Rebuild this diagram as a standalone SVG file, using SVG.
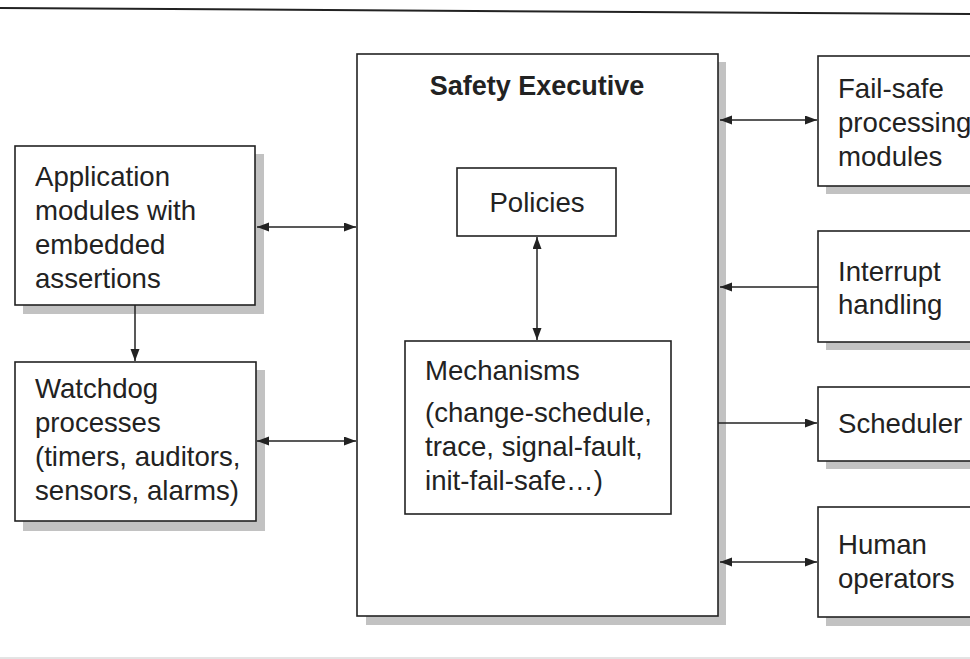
<svg xmlns="http://www.w3.org/2000/svg" width="970" height="659" viewBox="0 0 970 659">
<style>
  .box { fill: #ffffff; stroke: #222; stroke-width: 1.6; }
  .shadow { fill: #c2c2c2; }
  .t { font-family: "Liberation Sans", Arial, sans-serif; font-size: 27.6px; fill: #222; }
  .tb { font-family: "Liberation Sans", Arial, sans-serif; font-size: 27px; font-weight: bold; fill: #222; }
  .c { fill: none; stroke: #222; stroke-width: 1.5; }
</style>
<defs>
  <marker id="ah" markerUnits="userSpaceOnUse" markerWidth="13" markerHeight="10" refX="12" refY="4.5" orient="auto-start-reverse">
    <path d="M0,0 L12,4.5 L0,9 Z" fill="#222"/>
  </marker>
</defs>
<rect width="970" height="659" fill="#ffffff"/>
<line x1="0" y1="8" x2="970" y2="14" stroke="#222" stroke-width="2"/>
<line x1="0" y1="658" x2="970" y2="658" stroke="#c8c8c8" stroke-width="1"/>

<g id="app">
  <rect class="shadow" x="23" y="154" width="241" height="160"/>
  <rect class="box" x="15" y="146" width="240" height="159"/>
  <text class="t" x="35" y="186">Application</text>
  <text class="t" x="35" y="220">modules with</text>
  <text class="t" x="35" y="254">embedded</text>
  <text class="t" x="35" y="288">assertions</text>
</g>
<g id="watchdog">
  <rect class="shadow" x="23" y="370" width="242" height="161"/>
  <rect class="box" x="15" y="362" width="241" height="159"/>
  <text class="t" x="35" y="398">Watchdog</text>
  <text class="t" x="35" y="432">processes</text>
  <text class="t" x="35" y="466">(timers, auditors,</text>
  <text class="t" x="35" y="500">sensors, alarms)</text>
</g>
<g id="safety-executive">
  <rect class="shadow" x="366" y="62" width="360" height="563"/>
  <rect class="box" x="357" y="54" width="361" height="562"/>
  <text class="tb" x="537" y="95" text-anchor="middle">Safety Executive</text>
</g>
<g id="policies">
  <rect class="box" x="457" y="168" width="159" height="68"/>
  <text class="t" x="537" y="212" text-anchor="middle">Policies</text>
</g>
<g id="mechanisms">
  <rect class="box" x="405" y="341" width="266" height="173"/>
  <text class="t" x="425" y="380">Mechanisms</text>
  <text class="t" x="425" y="422">(change-schedule,</text>
  <text class="t" x="425" y="456">trace, signal-fault,</text>
  <text class="t" x="425" y="490">init-fail-safe…)</text>
</g>
<g id="failsafe">
  <rect class="shadow" x="826" y="64" width="160" height="130"/>
  <rect class="box" x="818" y="56" width="170" height="130"/>
  <text class="t" x="838" y="98">Fail-safe</text>
  <text class="t" x="838" y="132">processing</text>
  <text class="t" x="838" y="166">modules</text>
</g>
<g id="interrupt">
  <rect class="shadow" x="826" y="239" width="160" height="111"/>
  <rect class="box" x="818" y="231" width="170" height="111"/>
  <text class="t" x="838" y="281">Interrupt</text>
  <text class="t" x="838" y="314">handling</text>
</g>
<g id="scheduler">
  <rect class="shadow" x="826" y="395" width="160" height="74"/>
  <rect class="box" x="818" y="387" width="170" height="74"/>
  <text class="t" x="838" y="433">Scheduler</text>
</g>
<g id="human">
  <rect class="shadow" x="826" y="515" width="160" height="111"/>
  <rect class="box" x="818" y="507" width="170" height="110"/>
  <text class="t" x="838" y="554">Human</text>
  <text class="t" x="838" y="588">operators</text>
</g>

<g id="connectors">
  <line class="c" x1="257" y1="227" x2="356" y2="227" marker-start="url(#ah)" marker-end="url(#ah)"/>
  <line class="c" x1="257" y1="441" x2="356" y2="441" marker-start="url(#ah)" marker-end="url(#ah)"/>
  <line class="c" x1="135" y1="305" x2="135" y2="361" marker-end="url(#ah)"/>
  <line class="c" x1="537" y1="237" x2="537" y2="340" marker-start="url(#ah)" marker-end="url(#ah)"/>
  <line class="c" x1="720" y1="120" x2="817" y2="120" marker-start="url(#ah)" marker-end="url(#ah)"/>
  <line class="c" x1="818" y1="287" x2="720" y2="287" marker-end="url(#ah)"/>
  <line class="c" x1="718" y1="423" x2="817" y2="423" marker-end="url(#ah)"/>
  <line class="c" x1="720" y1="562" x2="817" y2="562" marker-start="url(#ah)" marker-end="url(#ah)"/>
</g>
</svg>
